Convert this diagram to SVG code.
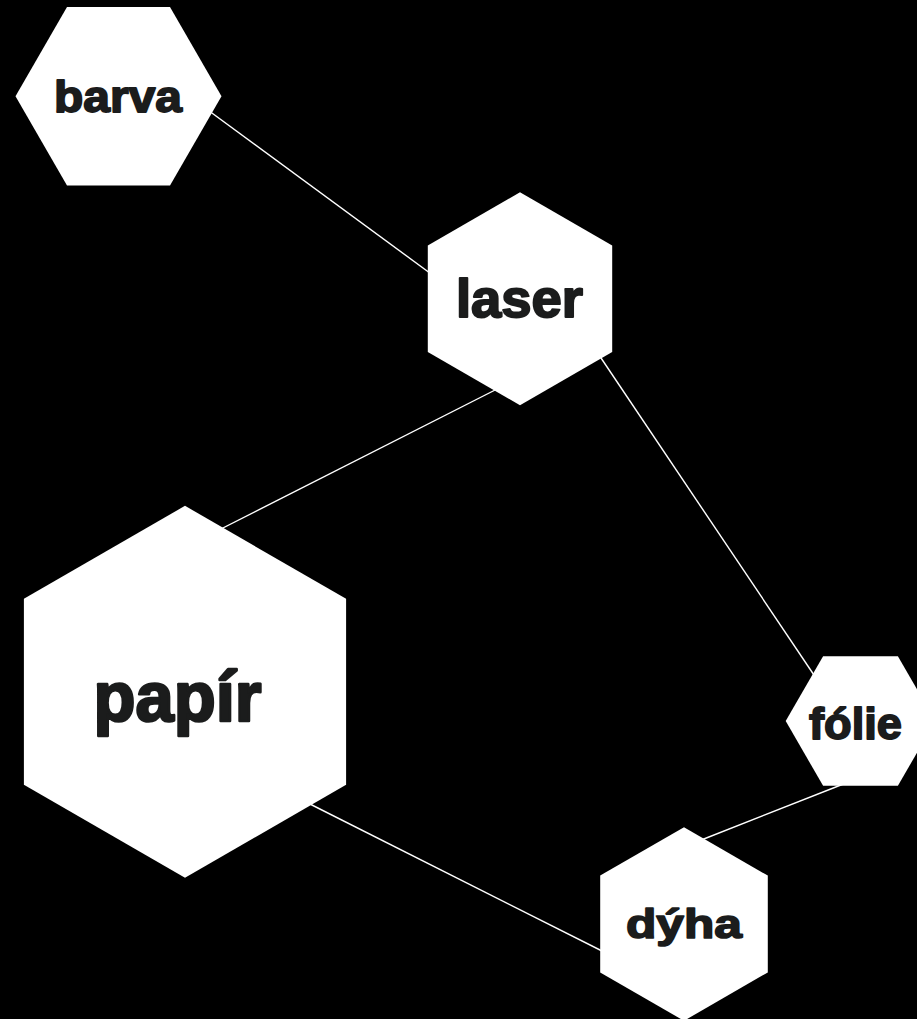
<svg xmlns="http://www.w3.org/2000/svg" width="917" height="1019" viewBox="0 0 917 1019">
<style>
.hex{fill:#ffffff;stroke:none}
.edge{stroke:#ffffff;stroke-width:1.4;fill:none}
.lbl{font-family:"Liberation Sans",Arial,sans-serif;font-weight:bold;fill:#1b1c1c;stroke:#1b1c1c;stroke-linejoin:round}
</style>
<rect x="0" y="0" width="917" height="1019" fill="#000000"/>
<g id="connectors">
<line class="edge" x1="201" y1="105" x2="438" y2="279"/>
<line class="edge" x1="503" y1="386" x2="215" y2="532"/>
<line class="edge" x1="597" y1="352" x2="818" y2="681"/>
<line class="edge" x1="846" y1="783" x2="700" y2="840.5"/>
<line class="edge" x1="302" y1="800" x2="610" y2="955"/>
</g>
<g id="barva">
<polygon class="hex" points="221.5,96.3 170,185.5 67,185.5 15.5,96.3 67,7.1 170,7.1"/>
<text class="lbl" x="54" y="111.5" font-size="45" stroke-width="1.8" textLength="128" lengthAdjust="spacingAndGlyphs">barva</text>
</g>
<g id="laser">
<polygon class="hex" points="520,192.3 612.2,245.5 612.2,352 520,405.3 427.8,352 427.8,245.5"/>
<text class="lbl" x="456" y="317" font-size="53" stroke-width="2" textLength="127" lengthAdjust="spacingAndGlyphs">laser</text>
</g>
<g id="papir">
<polygon class="hex" points="185,505.8 346.1,598.8 346.1,784.8 185,877.8 23.9,784.8 23.9,598.8"/>
<text class="lbl" x="93.5" y="721" font-size="70" stroke-width="2.6" textLength="168" lengthAdjust="spacingAndGlyphs">papír</text>
</g>
<g id="folie">
<polygon class="hex" points="935.3,721 897.9,785.8 823.1,785.8 785.7,721 823.1,656.2 897.9,656.2"/>
<text class="lbl" x="809" y="738.5" font-size="45" stroke-width="1.8" textLength="93" lengthAdjust="spacingAndGlyphs">fólie</text>
</g>
<g id="dyha">
<polygon class="hex" points="684,827.2 767.8,875.6 767.8,972.4 684,1020.8 600.2,972.4 600.2,875.6"/>
<text class="lbl" x="626" y="938" font-size="40" stroke-width="1.6" textLength="116" lengthAdjust="spacingAndGlyphs">dýha</text>
</g>
</svg>
